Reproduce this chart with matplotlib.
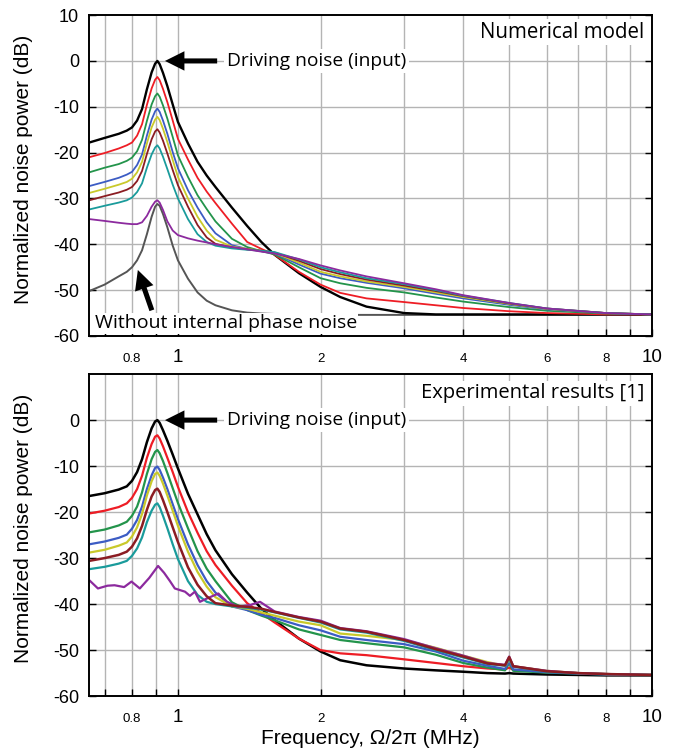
import matplotlib
matplotlib.use("Agg")
import matplotlib.pyplot as plt
from matplotlib.ticker import NullLocator

# ---- data (frequency in MHz, power in dB) ----
F_TOP = [0.65, 0.70, 0.75, 0.78, 0.80, 0.82, 0.84, 0.86, 0.88, 0.895, 0.905, 0.915, 0.93, 0.95, 0.975,
         1.0, 1.05, 1.1, 1.15, 1.2, 1.3, 1.4, 1.5, 1.6, 1.8, 2.0, 2.2, 2.5, 3.0, 3.5, 4.0, 5.0, 6.0, 8.0, 10.0]

TOP_BLACK = [-17.8, -16.8, -15.9, -15.2, -14.5, -13.0, -10.5, -6.2, -2.5, -0.6, 0.0, -0.7, -2.6, -5.5, -9.5,
             -13.3, -18.0, -22.0, -25.0, -27.5, -32.0, -36.0, -39.5, -42.3, -46.3, -49.3, -51.5, -53.6, -55.0, -55.3,
             -55.3, -55.3, -55.3, -55.3, -55.3]
TOP_RED = [-21.0, -20.1, -19.1, -18.4, -17.8, -16.3, -13.8, -9.6, -6.0, -4.1, -3.5, -4.2, -6.1, -9.0, -13.0,
           -17.0, -21.5, -25.5, -28.5, -31.0, -35.5, -39.5, -41.0, -42.3, -46.0, -48.8, -50.6, -51.8, -52.6, -53.3,
           -53.9, -54.6, -55.0, -55.3, -55.3]
TOP_GREEN = [-24.3, -23.3, -22.5, -21.8, -21.1, -19.7, -17.2, -13.1, -9.5, -7.7, -7.1, -7.8, -9.7, -12.6, -16.6,
             -20.6, -25.3, -29.3, -32.3, -35.0, -38.8, -40.6, -41.5, -42.2, -45.0, -47.4, -48.5, -49.5, -50.5, -51.6,
             -52.5, -53.7, -54.5, -55.1, -55.3]
TOP_BLUE = [-27.3, -26.4, -25.5, -24.8, -24.2, -22.7, -20.4, -16.3, -12.8, -11.0, -10.4, -11.1, -13.0, -15.9, -19.9,
            -23.4, -28.2, -32.0, -35.2, -37.6, -40.2, -41.0, -41.5, -42.0, -44.4, -46.4, -47.4, -48.4, -49.6, -50.8,
            -51.8, -53.2, -54.2, -55.0, -55.3]
TOP_YELLOW = [-28.8, -27.9, -27.0, -26.4, -25.7, -24.3, -22.0, -18.0, -14.5, -12.8, -12.2, -12.9, -14.8, -17.7, -21.6,
              -25.3, -30.0, -34.0, -37.0, -39.0, -40.5, -41.0, -41.4, -41.9, -44.0, -46.0, -47.0, -48.1, -49.3, -50.5,
              -51.5, -53.0, -54.1, -55.0, -55.3]
TOP_MAROON = [-30.4, -29.5, -28.7, -28.1, -27.5, -26.2, -24.0, -20.3, -17.1, -15.4, -14.9, -15.6, -17.4, -20.2, -23.8,
              -27.1, -31.8, -35.8, -38.5, -39.9, -40.7, -41.1, -41.4, -41.8, -43.6, -45.4, -46.5, -47.7, -49.0, -50.2,
              -51.3, -52.9, -54.0, -55.0, -55.3]
TOP_TEAL = [-32.4, -31.6, -30.9, -30.4, -29.8, -28.6, -26.7, -23.3, -20.4, -18.9, -18.4, -19.1, -20.9, -23.6, -27.0,
            -30.0, -34.5, -37.8, -39.5, -40.3, -40.9, -41.2, -41.4, -41.7, -43.3, -45.0, -46.1, -47.4, -48.7, -50.0,
            -51.2, -52.8, -54.0, -55.0, -55.3]
TOP_PURPLE = [-34.5, -34.9, -35.3, -35.5, -35.6, -35.6, -35.2, -33.8, -31.8, -30.7, -30.4, -30.9, -32.5, -35.0, -37.0,
              -38.0, -38.7, -39.2, -39.6, -40.0, -40.6, -41.1, -41.6, -42.0, -43.2, -44.6, -45.7, -47.0, -48.5, -49.8,
              -51.1, -52.8, -54.0, -55.0, -55.3]
TOP_GRAY = [-50.2, -48.8, -47.0, -46.0, -45.0, -43.5, -41.3, -37.8, -34.0, -31.8, -31.2, -31.6, -33.4, -36.3, -40.3,
            -43.5, -47.5, -50.5, -52.3, -53.3, -54.4, -54.9, -55.1, -55.2, -55.3, -55.4, -55.4, -55.4, -55.4, -55.4,
            -55.4, -55.4, -55.4, -55.4, -55.4]

F_BOT = [0.65, 0.70, 0.75, 0.78, 0.80, 0.82, 0.84, 0.86, 0.88, 0.895, 0.905, 0.915, 0.93, 0.95, 0.975,
         1.0, 1.05, 1.1, 1.15, 1.2, 1.3, 1.4, 1.5, 1.6, 1.8, 2.0, 2.2, 2.5, 3.0, 3.5, 4.0, 4.5, 4.9, 5.0, 5.1,
         6.0, 7.0, 8.0, 10.0]

BOT_BLACK = [-16.5, -15.9, -15.1, -14.4, -13.2, -11.3, -8.5, -4.8, -1.8, -0.3, 0.0, -0.6, -2.2, -4.5, -7.5,
             -10.5, -16.0, -20.5, -24.8, -28.3, -33.5, -37.5, -41.0, -43.5, -47.5, -50.3, -52.2, -53.3, -54.0, -54.4,
             -54.7, -55.0, -55.1, -55.0, -55.1, -55.3, -55.4, -55.5, -55.5]
BOT_RED = [-20.3, -19.7, -18.9, -18.1, -16.9, -15.0, -12.1, -8.2, -5.2, -3.6, -3.3, -4.0, -5.7, -8.2, -11.3,
           -14.5, -20.0, -24.5, -28.5, -31.5, -36.0, -39.8, -42.0, -44.0, -47.5, -50.0, -50.7, -51.1, -52.0, -52.8,
           -53.5, -54.0, -54.2, -53.8, -54.3, -54.7, -55.0, -55.2, -55.4]
BOT_GREEN = [-24.4, -23.8, -22.9, -22.1, -20.8, -18.8, -15.7, -11.7, -8.5, -6.9, -6.5, -7.2, -8.9, -11.5, -14.8,
             -18.0, -23.5, -28.5, -32.3, -35.0, -39.6, -41.3, -42.5, -43.5, -45.5, -46.7, -47.8, -48.5, -49.4, -51.0,
             -52.8, -53.8, -54.4, -52.8, -54.5, -54.9, -55.1, -55.3, -55.4]
BOT_BLUE = [-27.0, -26.4, -25.6, -24.9, -23.6, -21.7, -18.8, -15.0, -12.0, -10.4, -10.1, -10.8, -12.5, -15.0, -18.3,
            -21.5, -27.0, -31.5, -35.0, -37.5, -40.5, -41.3, -42.3, -43.0, -44.6, -45.7, -47.1, -47.8, -48.7, -50.3,
            -52.3, -53.4, -54.1, -52.5, -54.2, -54.8, -55.1, -55.3, -55.4]
BOT_YELLOW = [-28.8, -28.2, -27.3, -26.6, -25.3, -23.3, -20.4, -16.4, -13.3, -11.7, -11.4, -12.1, -13.8, -16.4, -19.7,
              -23.0, -28.6, -33.0, -36.2, -38.5, -40.5, -41.0, -41.8, -42.5, -43.8, -44.6, -46.4, -46.9, -47.8, -49.5,
              -51.2, -52.6, -53.4, -52.0, -53.5, -54.5, -55.0, -55.2, -55.4]
BOT_MAROON = [-30.6, -30.0, -29.3, -28.6, -27.5, -25.7, -23.0, -19.5, -16.6, -15.2, -14.9, -15.6, -17.4, -20.0, -23.3,
              -26.5, -32.0, -35.8, -38.3, -39.8, -40.3, -40.6, -41.0, -41.7, -42.9, -43.8, -45.3, -46.0, -47.8, -49.8,
              -51.4, -52.9, -53.3, -51.5, -53.5, -54.6, -55.0, -55.2, -55.4]
BOT_TEAL = [-32.4, -31.9, -31.2, -30.6, -29.5, -27.9, -25.5, -22.2, -19.7, -18.4, -18.1, -18.9, -20.8, -23.5, -27.0,
            -30.2, -35.0, -38.0, -39.5, -40.0, -40.5, -40.8, -41.2, -41.8, -43.0, -44.0, -45.5, -46.2, -48.0, -50.0,
            -51.6, -53.0, -53.4, -51.8, -53.6, -54.7, -55.0, -55.2, -55.4]

F_BOT_PURPLE = [0.65, 0.678, 0.71, 0.735, 0.77, 0.798, 0.831, 0.87, 0.908, 0.935, 0.962, 0.985, 1.035, 1.06, 1.086,
                1.113, 1.15, 1.217, 1.27, 1.34, 1.42, 1.49, 1.6, 1.8, 2.0, 2.2, 2.5, 3.0, 3.5, 4.0, 4.5, 4.9, 5.0, 5.1,
                6.0, 7.0, 8.0, 10.0]
BOT_PURPLE = [-34.8, -36.6, -36.0, -35.9, -36.3, -35.1, -36.6, -34.3, -31.7, -33.2, -35.0, -36.6, -37.3, -38.2, -37.3,
              -39.5, -38.8, -37.7, -39.5, -40.6, -40.2, -39.5, -41.6, -42.8, -43.6, -45.2, -45.9, -47.6, -49.6, -51.2,
              -52.8, -53.2, -51.4, -53.5, -54.5, -55.0, -55.2, -55.4]

COLORS = {"black": "#000000", "red": "#ee1d25", "green": "#23944b", "blue": "#3c5cc4",
          "yellow": "#c9c92b", "maroon": "#8b1c22", "teal": "#1a9b9b", "purple": "#8c2a9e", "gray": "#555555"}

XTICKS = [0.7, 0.8, 0.9, 1, 2, 3, 4, 5, 6, 7, 8, 9, 10]
XLABELS = ["", "0.8", "", "1", "2", "", "4", "", "6", "", "8", "", "10"]
BIG_LABELS = ("1", "10")

SANS = ["Liberation Sans", "DejaVu Sans"]
NOTE = ["Open Sans", "DejaVu Sans"]


def style_axes(ax, yticks):
    ax.set_xscale("log")
    ax.set_xlim(0.649, 10)
    ax.set_ylim(-60, 10)
    ax.xaxis.set_minor_locator(NullLocator())
    ax.set_xticks(XTICKS)
    ax.set_xticklabels(XLABELS)
    ax.set_yticks(yticks)
    ax.set_yticklabels([str(v) for v in yticks], family=SANS, fontsize=13)
    for lab in ax.get_xticklabels():
        lab.set_family(SANS)
        lab.set_fontsize(13.5 if lab.get_text() in BIG_LABELS else 9.5)
        lab.set_va("baseline")
    ax.tick_params(axis="x", direction="in", length=5, width=1.0, pad=18.5, top=False)
    ax.tick_params(axis="y", direction="in", length=5, width=1.0, pad=7, right=True)
    for x in XTICKS:
        ax.axvline(x, color="#b4b4b4", lw=1.0, zorder=0)
    for y in range(-50, 10, 10):
        ax.axhline(y, color="#b4b4b4", lw=1.0, zorder=0)
    for s in ax.spines.values():
        s.set_linewidth(1.4)
    ax.set_ylabel("Normalized noise power (dB)", family=SANS, fontsize=15)
    ax.yaxis.set_label_coords(-0.10, 0.52)


def big_arrow(ax, tip, tail):
    ax.annotate("", xy=tip, xytext=tail,
                arrowprops=dict(arrowstyle="simple,head_width=1.0,head_length=1.0,tail_width=0.26",
                                fc="black", ec="none", mutation_scale=14, shrinkA=0, shrinkB=0))


fig = plt.figure(figsize=(6.79, 7.55), dpi=100)
ax1 = fig.add_axes([0.131, 0.555, 0.829, 0.425])
ax2 = fig.add_axes([0.131, 0.078, 0.829, 0.4265])

# top panel: numerical model
ax1.plot(F_TOP, TOP_GRAY, color=COLORS["gray"], lw=1.4)
for key, vals in [("black", TOP_BLACK), ("red", TOP_RED), ("green", TOP_GREEN), ("blue", TOP_BLUE),
                  ("yellow", TOP_YELLOW), ("maroon", TOP_MAROON), ("teal", TOP_TEAL), ("purple", TOP_PURPLE)]:
    ax1.plot(F_TOP, vals, color=COLORS[key], lw=1.7 if key == "black" else 1.3)
style_axes(ax1, list(range(10, -61, -10)))

ax1.text(0.987, 0.947, "Numerical model", transform=ax1.transAxes, ha="right", va="center",
         family=NOTE, fontsize=14.8, bbox=dict(fc="white", ec="none", pad=2))
big_arrow(ax1, (0.939, 0), (1.21, 0))
ax1.text(1.27, 0, "Driving noise (input)", ha="left", va="center", family=NOTE, fontsize=13.8,
         bbox=dict(fc="white", ec="none", pad=2))
big_arrow(ax1, (0.823, -45.6), (0.881, -54.4))
ax1.text(0.667, -57.2, "Without internal phase noise", ha="left", va="center", family=NOTE, fontsize=14,
         bbox=dict(fc="white", ec="none", pad=1))

# bottom panel: experiment
for key, vals in [("black", BOT_BLACK), ("red", BOT_RED), ("green", BOT_GREEN), ("blue", BOT_BLUE),
                  ("yellow", BOT_YELLOW), ("teal", BOT_TEAL)]:
    ax2.plot(F_BOT, vals, color=COLORS[key], lw=1.8 if key == "black" else 1.6)
ax2.plot(F_BOT_PURPLE, BOT_PURPLE, color=COLORS["purple"], lw=1.6)
ax2.plot(F_BOT, BOT_MAROON, color=COLORS["maroon"], lw=1.8)
style_axes(ax2, list(range(0, -61, -10)))

ax2.text(0.986, 0.94, "Experimental results [1]", transform=ax2.transAxes, ha="right", va="center",
         family=NOTE, fontsize=14.5, bbox=dict(fc="white", ec="none", pad=2))
big_arrow(ax2, (0.939, 0), (1.21, 0))
ax2.text(1.27, 0, "Driving noise (input)", ha="left", va="center", family=NOTE, fontsize=13.8,
         bbox=dict(fc="white", ec="none", pad=2))
ax2.set_xlabel("Frequency, \u03a9/2\u03c0 (MHz)", family=SANS, fontsize=15, labelpad=2)

fig.savefig("out.png", dpi=100)
